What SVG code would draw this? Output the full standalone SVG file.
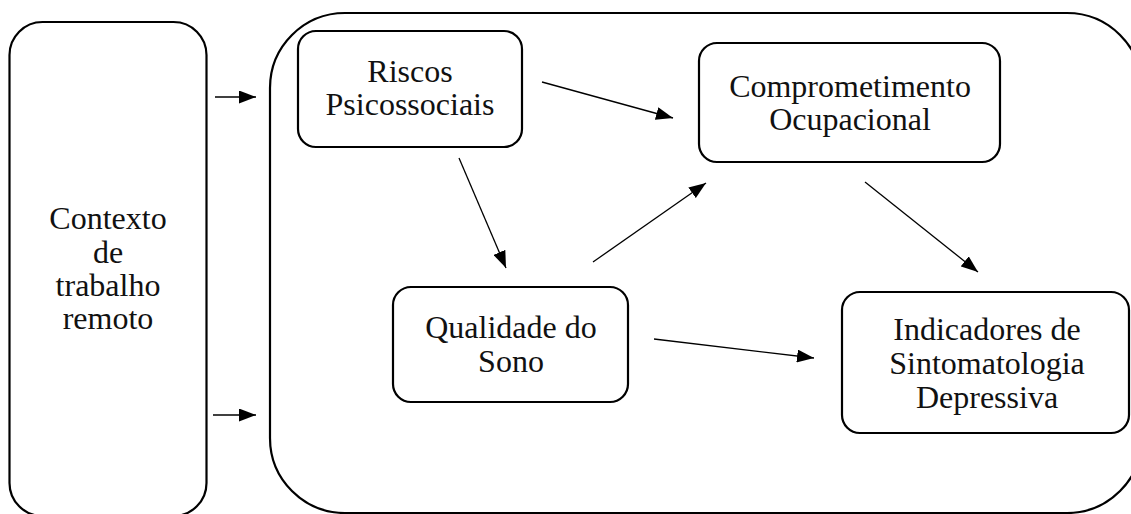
<svg xmlns="http://www.w3.org/2000/svg" width="1131" height="514" viewBox="0 0 1131 514">
<style>
.box{fill:#fff;stroke:#000;stroke-width:2.2}
.lbl{font-family:"Liberation Serif","DejaVu Serif",serif;font-size:32px;fill:#111;text-anchor:middle}
.con{stroke:#000;stroke-width:1.3;fill:none;marker-end:url(#ah)}
</style>
<defs>
<marker id="ah" markerWidth="17" markerHeight="13" refX="17" refY="6.5" orient="auto" markerUnits="userSpaceOnUse">
<path d="M0,0 L17,6.5 L0,13 z" fill="#000"/>
</marker>
</defs>
<rect width="1131" height="514" fill="#fff"/>
<g id="contexto">
<rect class="box" x="9.5" y="22" width="197" height="494" rx="33" ry="33"/>
<text class="lbl" x="108" y="229">Contexto</text>
<text class="lbl" x="108" y="263">de</text>
<text class="lbl" x="108" y="296">trabalho</text>
<text class="lbl" x="108" y="329">remoto</text>
</g>
<g id="container">
<rect class="box" x="270" y="13" width="872" height="500" rx="75" ry="75"/>
</g>
<g id="riscos">
<rect class="box" x="298" y="31" width="224" height="116" rx="18" ry="18"/>
<text class="lbl" x="410" y="82">Riscos</text>
<text class="lbl" x="410" y="115">Psicossociais</text>
</g>
<g id="comprometimento">
<rect class="box" x="699" y="43" width="301" height="119" rx="18" ry="18"/>
<text class="lbl" x="850" y="97">Comprometimento</text>
<text class="lbl" x="850" y="130">Ocupacional</text>
</g>
<g id="qualidade">
<rect class="box" x="393" y="287" width="235" height="115" rx="18" ry="18"/>
<text class="lbl" x="511" y="338">Qualidade do</text>
<text class="lbl" x="511" y="372">Sono</text>
</g>
<g id="indicadores">
<rect class="box" x="842" y="292" width="287" height="141" rx="18" ry="18"/>
<text class="lbl" x="987" y="340">Indicadores de</text>
<text class="lbl" x="987" y="374">Sintomatologia</text>
<text class="lbl" x="987" y="408">Depressiva</text>
</g>
<g id="connectors">
<line class="con" x1="215" y1="97" x2="256" y2="97"/>
<line class="con" x1="213" y1="415" x2="256" y2="415"/>
<line class="con" x1="542" y1="82" x2="673" y2="118"/>
<line class="con" x1="459" y1="158" x2="506" y2="268"/>
<line class="con" x1="593" y1="262" x2="706" y2="183"/>
<line class="con" x1="865" y1="182" x2="978" y2="272"/>
<line class="con" x1="654" y1="339" x2="814" y2="358"/>
</g>
</svg>
